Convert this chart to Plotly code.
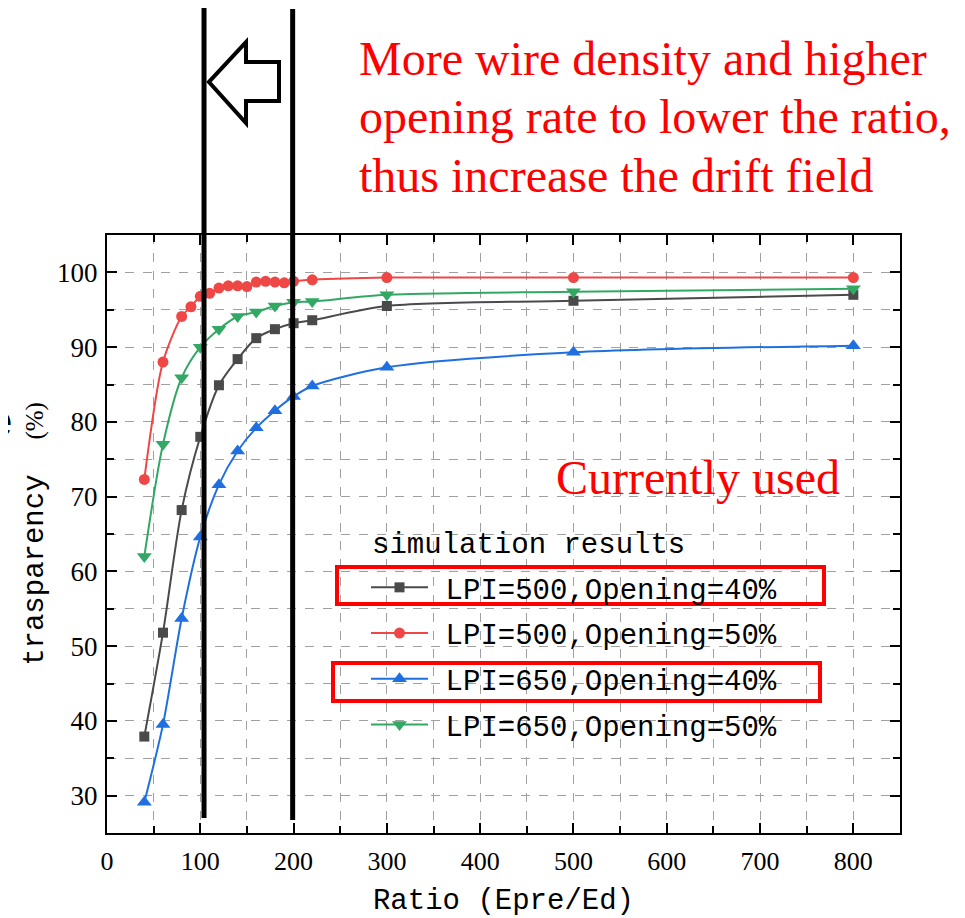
import plotly.graph_objects as go

# ---------------- data ----------------
x_red = [40, 60, 80, 90, 100, 110, 120, 130, 140, 150, 160, 170, 180, 190, 200, 220, 300, 500, 800]
y_red = [72.3, 88.0, 94.1, 95.4, 96.8, 97.2, 97.9, 98.2, 98.2, 98.1, 98.7, 98.8, 98.7, 98.6, 98.8, 99.0, 99.3, 99.3, 99.3]

x_common = [40, 60, 80, 100, 120, 140, 160, 180, 200, 220, 300, 500, 800]
y_gray = [37.9, 51.8, 68.2, 78.0, 84.9, 88.4, 91.2, 92.4, 93.2, 93.6, 95.5, 96.2, 97.0]
y_blue = [29.1, 39.5, 53.7, 64.6, 71.6, 76.1, 79.2, 81.5, 83.4, 84.8, 87.3, 89.3, 90.2]
y_green = [62.0, 77.0, 85.9, 90.0, 92.4, 94.1, 94.7, 95.5, 96.0, 96.1, 97.0, 97.4, 97.8]

names = ["LPI=500,Opening=40%", "LPI=500,Opening=50%", "LPI=650,Opening=40%", "LPI=650,Opening=50%"]
legend_title = "simulation results"
x_ticks = [0, 100, 200, 300, 400, 500, 600, 700, 800]
y_ticks = [30, 40, 50, 60, 70, 80, 90, 100]
guide_x = [104, 199]

# ---------------- layout geometry ----------------
OFF = 8  # page body margin of the html page
W, H = 965 - 2 * OFF, 918 - OFF
L, R, T, B = 107 - OFF, 57, 235 - OFF, 85
PW, PH = W - L - R, H - T - B


def px2paper(px):
    return (px - OFF - L) / PW


def py2paper(py):
    return (OFF + H - B - py) / PH


colors = ["#4a4a4a", "#ef4646", "#1f6fe0", "#33a865"]
symbols = ["square", "circle", "triangle-up", "triangle-down"]
msizes = [10, 11, 13, 13]
xs = [x_common, x_red, x_common, x_common]
ys = [y_gray, y_red, y_blue, y_green]

pad = '<span style="font-size:21px">\u00a0</span>'

fig = go.Figure()
for i in range(4):
    fig.add_trace(go.Scatter(
        x=xs[i], y=ys[i], name=pad + names[i], mode="lines+markers",
        line=dict(color=colors[i], width=2, shape="spline", smoothing=0.8),
        marker=dict(symbol=symbols[i], size=msizes[i], color=colors[i]),
        legendgroup="g%d" % i,
    ))

shapes = []
# white background behind legend (covers grid)
shapes.append(dict(type="rect", xref="paper", yref="paper",
                   x0=px2paper(368), x1=px2paper(785), y0=py2paper(745), y1=py2paper(505),
                   fillcolor="white", line=dict(width=0), layer="between"))
# red highlight boxes
shapes.append(dict(type="rect", xref="paper", yref="paper",
                   x0=px2paper(337), x1=px2paper(824), y0=py2paper(604), y1=py2paper(567),
                   line=dict(color="#ff0000", width=4), layer="above"))
shapes.append(dict(type="rect", xref="paper", yref="paper",
                   x0=px2paper(333), x1=px2paper(820), y0=py2paper(701), y1=py2paper(663),
                   line=dict(color="#ff0000", width=4), layer="above"))
# thick vertical guide lines
shapes.append(dict(type="line", xref="x", yref="paper", x0=guide_x[0], x1=guide_x[0],
                   y0=py2paper(818), y1=py2paper(7), line=dict(color="black", width=5), layer="above"))
shapes.append(dict(type="line", xref="x", yref="paper", x0=guide_x[1], x1=guide_x[1],
                   y0=py2paper(820), y1=py2paper(9), line=dict(color="black", width=5), layer="above"))
# hollow left arrow
arrow_pts = [(209, 82), (246, 42), (246, 62), (279, 62), (279, 101), (246, 101), (246, 123)]
path = "M " + " L ".join("%.4f,%.4f" % (px2paper(a), py2paper(b)) for a, b in arrow_pts) + " Z"
shapes.append(dict(type="path", xref="paper", yref="paper", path=path,
                   line=dict(color="black", width=4), fillcolor="white", layer="above"))

mono = "Liberation Mono"
red_font = dict(family="Liberation Serif", size=48, color="#ff0000")
annotations = []
lines = ["More wire density and higher", "opening rate to lower the ratio,", "thus increase the drift field"]
centers = [58, 116, 175]
for txt, cy in zip(lines, centers):
    annotations.append(dict(text=txt, xref="paper", yref="paper", x=px2paper(357), y=py2paper(cy),
                            xanchor="left", yanchor="middle", showarrow=False, font=red_font))
annotations.append(dict(text="Currently used", xref="paper", yref="paper", x=px2paper(554), y=py2paper(477),
                        xanchor="left", yanchor="middle", showarrow=False, font=red_font))
# legend title
annotations.append(dict(text=legend_title, xref="paper", yref="paper", x=px2paper(370), y=py2paper(545),
                        xanchor="left", yanchor="middle", showarrow=False,
                        font=dict(family=mono, size=29, color="black")))
# cropped glyph at left edge
annotations.append(dict(text="e", xref="paper", yref="paper", x=px2paper(14), y=py2paper(420),
                        xanchor="right", yanchor="middle", showarrow=False,
                        font=dict(family="Liberation Sans", size=44, color="black")))

axis_common = dict(
    showline=True, linecolor="black", linewidth=2, mirror="allticks",
    ticks="inside", ticklen=10, tickwidth=2, tickcolor="black",
    showgrid=True, gridcolor="#a0a0a0", griddash="dash", gridwidth=1,
    zeroline=False,
)

fig.update_layout(
    width=W, height=H, template="none",
    margin=dict(l=L, r=R, t=T, b=B, pad=0),
    paper_bgcolor="white", plot_bgcolor="white",
    showlegend=True,
    legend=dict(
        x=px2paper(366), y=py2paper(562), xanchor="left", yanchor="top",
        bgcolor="rgba(0,0,0,0)", borderwidth=0,
        font=dict(family=mono, size=29, color="black"),
        itemwidth=57, tracegroupgap=5, traceorder="grouped",
    ),
    xaxis=dict(
        range=[0, 850], tickvals=x_ticks, ticktext=[str(v) for v in x_ticks],
        tickfont=dict(family="Liberation Serif", size=26, color="black"),
        minor=dict(dtick=50, tick0=0, ticks="inside", ticklen=7, tickwidth=1.5, tickcolor="black",
                   showgrid=True, gridcolor="#a0a0a0", griddash="dash", gridwidth=1),
        title=dict(text="Ratio (Epre/Ed)", font=dict(family=mono, size=29, color="black"), standoff=32),
        ticklabelstandoff=4,
        **axis_common,
    ),
    yaxis=dict(
        range=[25, 105], tickvals=y_ticks, ticktext=[str(v) for v in y_ticks],
        tickfont=dict(family="Liberation Serif", size=27, color="black"),
        minor=dict(dtick=5, tick0=0, ticks="inside", ticklen=7, tickwidth=1.5, tickcolor="black",
                   showgrid=True, gridcolor="#a0a0a0", griddash="dash", gridwidth=1),
        title=dict(text='trasparency\u00a0\u00a0<span style="font-family:Liberation Serif;font-size:25px">(%)</span>',
                   font=dict(family=mono, size=29, color="black"), standoff=5),
        ticklabelstandoff=2,
        **axis_common,
    ),
    shapes=shapes,
    annotations=annotations,
)

fig.write_html("out.html")
